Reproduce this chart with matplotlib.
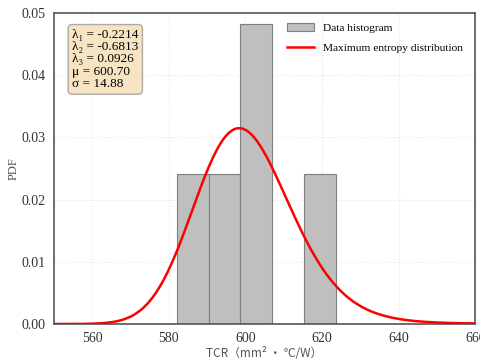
import numpy as np
import matplotlib
matplotlib.use("Agg")
import matplotlib.pyplot as plt

# measured TCR samples (histogram) and fitted max-entropy parameters
tcr_samples = [582.1, 597.0, 600.0, 600.8, 623.6]
lam1, lam2, lam3 = -0.2214, -0.6813, 0.0926
mu, sigma = 600.70, 14.88
x_ticks = [560, 580, 600, 620, 640, 660]
y_ticks = [0.00, 0.01, 0.02, 0.03, 0.04, 0.05]

plt.rcParams["font.family"] = ["Liberation Serif", "DejaVu Serif"]

fig, ax = plt.subplots(figsize=(4.8, 3.6), dpi=100)
fig.subplots_adjust(left=0.1125, right=0.99, bottom=0.1, top=0.964)

ax.hist(tcr_samples, bins=5, density=True, color="#bfbfbf",
        edgecolor="#7f7f7f", linewidth=0.8, label="Data histogram", zorder=2)

# max entropy pdf on standardized variable, normalised numerically
z_grid = np.linspace(-4, 4, 4001)
g = np.exp(lam1 * z_grid + lam2 * z_grid**2 + lam3 * z_grid**3)
norm = np.trapezoid(g, z_grid)
x = np.linspace(550, 660, 600)
z = (x - mu) / sigma
pdf = np.exp(lam1 * z + lam2 * z**2 + lam3 * z**3) / norm / sigma
ax.plot(x, pdf, color="red", linewidth=1.8,
        label="Maximum entropy distribution", zorder=3)

ax.set_xlim(550, 660)
ax.set_ylim(0, 0.05)
ax.set_xticks(x_ticks)
ax.set_yticks(y_ticks)
ax.set_yticklabels([f"{v:.2f}" for v in y_ticks])
ax.tick_params(length=0, labelsize=10, colors="#333333", pad=6)
ax.grid(True, color="#e6e6e6", linestyle=":", linewidth=0.8, zorder=0)
ax.set_axisbelow(True)
for s in ax.spines.values():
    s.set_color("#555555")
    s.set_linewidth(1.2)

ax.set_xlabel("TCR（mm² • ℃/W）", fontsize=8.5, color="#555555",
              family=["Noto Sans CJK SC", "DejaVu Sans"], labelpad=1)
ax.set_ylabel("PDF", fontsize=9, color="#555555", labelpad=1)

info = (f"λ₁ = {lam1:.4f}\nλ₂ = {lam2:.4f}\n"
        f"λ₃ = {lam3:.4f}\nμ = {mu:.2f}\nσ = {sigma:.2f}")
ax.text(0.043, 0.95, info, transform=ax.transAxes, fontsize=9.5,
        va="top", ha="left", linespacing=1.05,
        bbox=dict(boxstyle="round,pad=0.3", facecolor="wheat",
                  edgecolor="#999999", alpha=0.8))

ax.legend(loc="upper right", frameon=False, fontsize=8.2,
          handlelength=2.4, labelspacing=0.85, bbox_to_anchor=(0.995, 1.0))

fig.savefig("out.png", dpi=100)
